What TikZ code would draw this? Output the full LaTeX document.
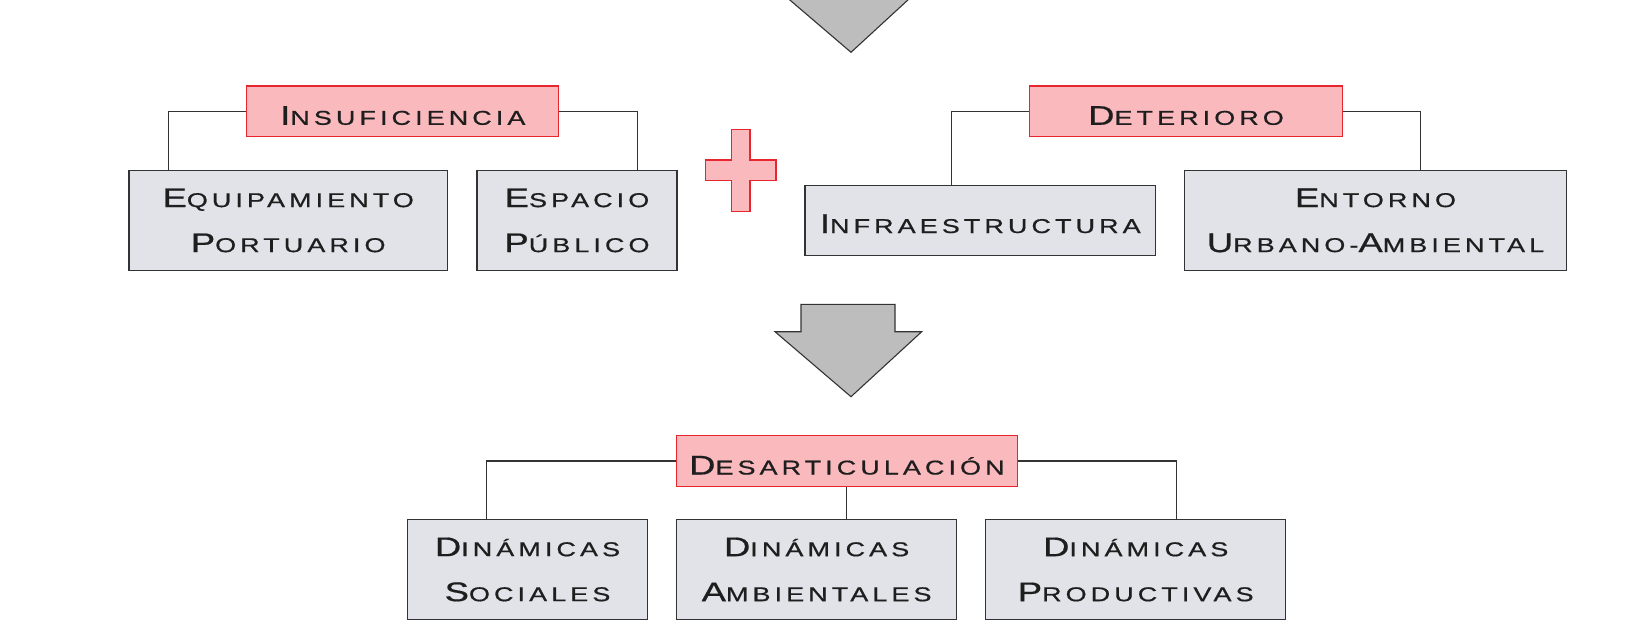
\documentclass[tikz,border=0pt]{standalone}
\usepackage{fontspec}
\usepackage{graphicx}
\setmainfont{Liberation Sans}
\newfontfamily\capfont[LetterSpace=15,FakeBold=0.6]{Liberation Sans}
\usetikzlibrary{calc}
\definecolor{pinkfill}{HTML}{F9B9BD}
\definecolor{redline}{HTML}{E8262F}
\definecolor{boxfill}{HTML}{E1E3E8}
\definecolor{boxline}{HTML}{333333}
\definecolor{arrowfill}{HTML}{BDBDBD}
\definecolor{txt}{HTML}{1E1E1E}
\newcommand\SCap[2]{\scalebox{1.35}[1]{{\fontsize{27}{45}\selectfont #1}{\fontsize{20}{45}\selectfont #2}}}
\tikzset{
  base/.style={inner sep=0pt, text=txt, align=center, line width=1.2pt,
    font=\capfont\fontsize{20}{45}\selectfont},
  headbox/.style={base, draw=redline, fill=pinkfill, minimum height=50.6pt, text height=27pt, text depth=0pt},
  itembox/.style={base, draw=boxline, fill=boxfill, minimum height=100.5pt},
  itemone/.style={base, draw=boxline, fill=boxfill, minimum height=70.4pt, text height=25pt, text depth=0pt},
  link/.style={draw=boxline, line width=1.1pt},
  bigarrow/.style={draw=boxline, fill=arrowfill, line width=1.1pt, line join=miter},
  plusmark/.style={draw=redline, fill=pinkfill, line width=1.2pt}
}
\begin{document}
\begin{tikzpicture}[x=1pt, y=-1pt]
\useasboundingbox (0,0) rectangle (1635,626);
% arrows
\begin{scope}
\clip (0,0) rectangle (1635,626);
\draw[bigarrow] (801,-40.1) -- (895,-40.1) -- (895,-12.7) -- (921.7,-12.7) -- (851,52.3) -- (775,-12.7) -- (801,-12.7) -- cycle;
\end{scope}
\draw[bigarrow] (801,304.3) -- (895,304.3) -- (895,331.7) -- (921.7,331.7) -- (851,396.7) -- (775,331.7) -- (801,331.7) -- cycle;
% plus
\draw[plusmark] (731.7,129.3) -- (750,129.3) -- (750,160) -- (776,160) -- (776,180.7) -- (750,180.7) -- (750,211.7) -- (731.7,211.7) -- (731.7,180.7) -- (705.7,180.7) -- (705.7,160) -- (731.7,160) -- cycle;
% top-left group
\node[headbox, minimum width=312pt] (ins) at (402.8,111.3) {\SCap{I}{NSUFICIENCIA}};
\node[itembox, minimum width=318.6pt] (equ) at (288.2,220.4) {\SCap{E}{QUIPAMIENTO}\\\SCap{P}{ORTUARIO}};
\node[itembox, minimum width=200pt] (esp) at (577,220.4) {\SCap{E}{SPACIO}\\\SCap{P}{ÚBLICO}};
\draw[link] (ins.west) -| ($(equ.north west)+(40,0)$);
\draw[link] (ins.east) -| ($(esp.north east)+(-40,0)$);
% top-right group
\node[headbox, minimum width=312.4pt] (det) at (1186,111.3) {\SCap{D}{ETERIORO}};
\node[itemone, minimum width=350.6pt] (inf) at (980.3,220.5) {\SCap{I}{NFRAESTRUCTURA}};
\node[itembox, minimum width=382pt] (ent) at (1375.5,220.4) {\SCap{E}{NTORNO}\\\SCap{U}{RBANO-}\SCap{A}{MBIENTAL}};
\draw[link] (det.west) -| ($(inf.north west)+(147,0)$);
\draw[link] (det.east) -| ($(ent.north east)+(-147,0)$);
% bottom group
\node[headbox, minimum width=341.3pt] (des) at (846.9,461) {\SCap{D}{ESARTICULACIÓN}};
\node[itembox, minimum width=240pt] (soc) at (527.5,569.5) {\SCap{D}{INÁMICAS}\\\SCap{S}{OCIALES}};
\node[itembox, minimum width=279.7pt] (amb) at (816.6,569.5) {\SCap{D}{INÁMICAS}\\\SCap{A}{MBIENTALES}};
\node[itembox, minimum width=299.8pt] (pro) at (1135.7,569.5) {\SCap{D}{INÁMICAS}\\\SCap{P}{RODUCTIVAS}};
\draw[link] (des.west) -| ($(soc.north west)+(80,0)$);
\draw[link] (des.south) -- (des.south |- amb.north);
\draw[link] (des.east) -| ($(pro.north east)+(-110,0)$);
\end{tikzpicture}
\end{document}
